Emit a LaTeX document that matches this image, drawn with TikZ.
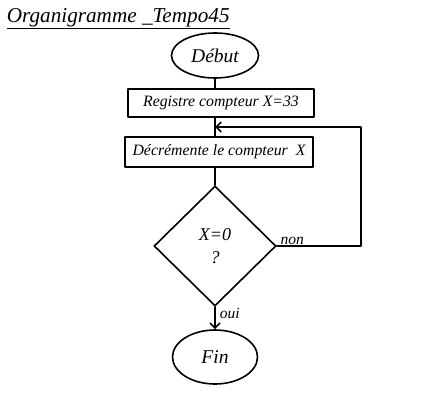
\documentclass[tikz,border=0pt]{standalone}
\usepackage{fontspec}
\setmainfont{Liberation Serif}
\usetikzlibrary{shapes.geometric,arrows.meta}

\begin{document}
\begin{tikzpicture}[line cap=round,line join=round,>={Straight Barb[length=5pt,width=10pt]},x=1pt,y=-1pt,line width=1.6pt,
  terminal/.style={ellipse,draw,inner sep=0pt,font=\itshape\fontsize{19.5}{22}\selectfont},
  boite/.style={rectangle,draw,inner sep=0pt,font=\itshape\fontsize{15.8}{18}\selectfont},
  test/.style={diamond,draw,inner sep=0pt,align=center,font=\itshape\fontsize{18}{21}\selectfont},
  petit/.style={font=\itshape\fontsize{15.5}{17}\selectfont,inner sep=1pt}]
\useasboundingbox (0,0) rectangle (443,401);
\node[anchor=west,inner sep=0pt,font=\itshape\fontsize{21.2}{25}\selectfont] (titre) at (6,19) {\underline{Organigramme \_Tempo45}};
\node[terminal,minimum width=87,minimum height=45] (debut) at (215,55.5) {Début};
\node[boite,minimum width=186,minimum height=28] (reg) at (221,103) {Registre compteur X=33};
\node[boite,minimum width=188,minimum height=30] (dec) at (219,152) {Décrémente le compteur~ X};
\node[test,minimum width=122,minimum height=120] (zero) at (215,246) {X=0\\[2pt]?};
\node[terminal,minimum width=85,minimum height=54] (fin) at (215,357) {Fin};
\coordinate (retour) at (215,127);
\coordinate (boucle) at (361,127);
\draw (debut.south) -- (debut.south |- reg.north);
\draw (reg.south -| retour) -- (dec.north -| retour);
\draw (dec.south -| retour) -- (zero.north);
\draw[->] (zero.east) -| (boucle) -- (retour);
\draw[->] (zero.south) -- (fin.north);
\node[petit,anchor=south west] (non) at ([xshift=2]zero.east) {non};
\node[petit,anchor=west] (oui) at ([xshift=3,yshift=-7]zero.south) {oui};
\end{tikzpicture}
\end{document}
